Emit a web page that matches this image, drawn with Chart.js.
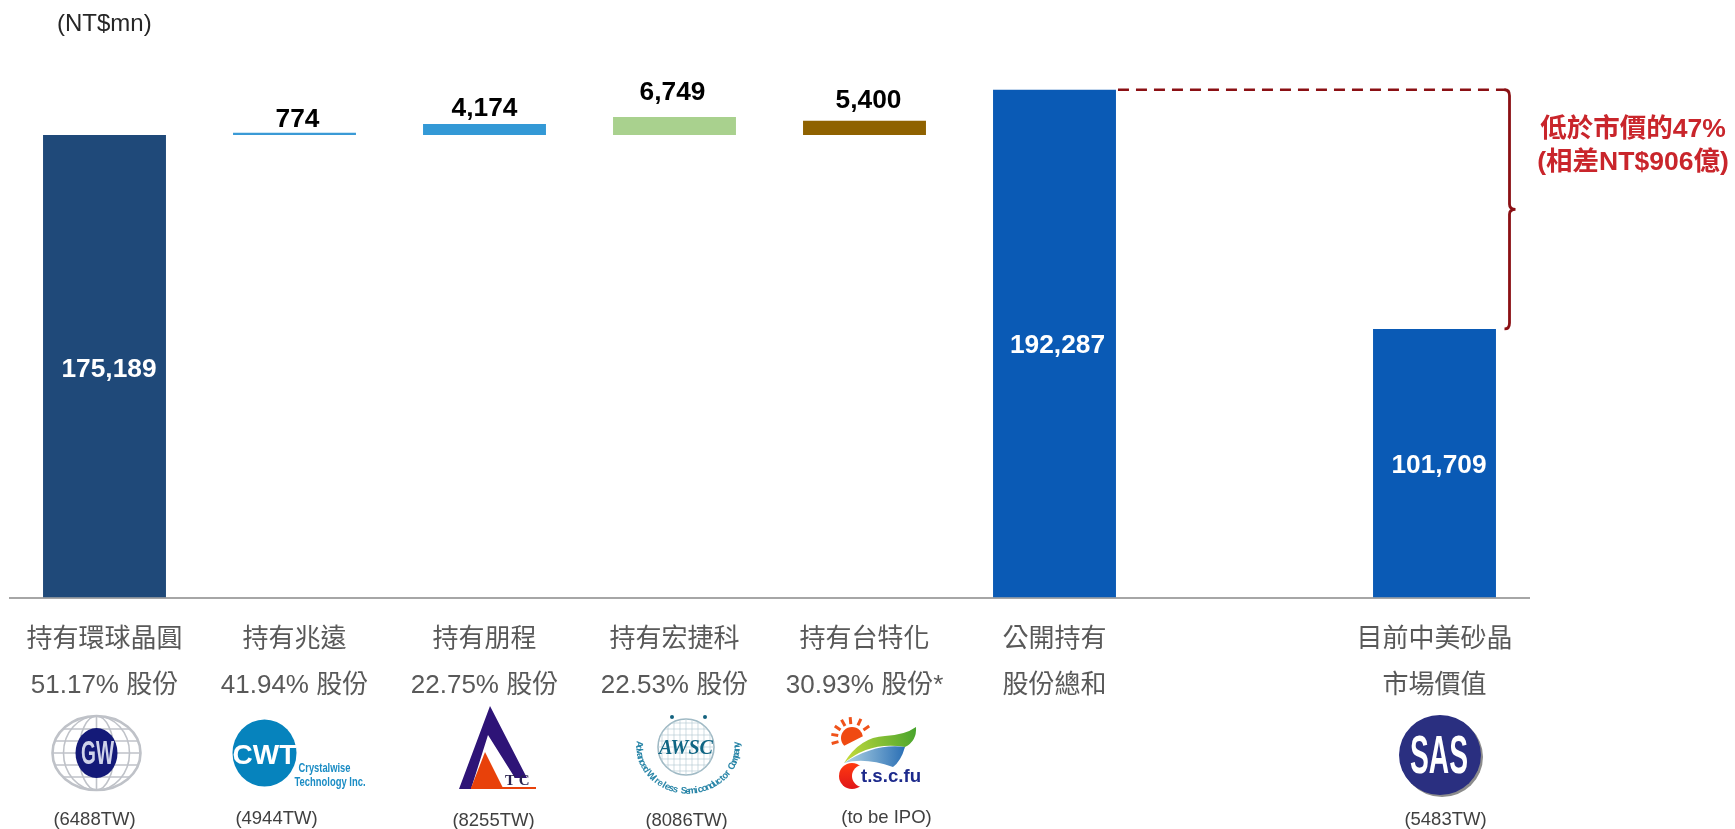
<!DOCTYPE html>
<html lang="zh-TW">
<head>
<meta charset="utf-8">
<title>中美矽晶持股價值</title>
<style>html,body{margin:0;padding:0;background:#fff}canvas{display:block}</style>
<script src="https://cdn.jsdelivr.net/npm/chart.js@4/dist/chart.umd.min.js"></script>
</head>
<body>
<canvas id="c" width="1735" height="829"></canvas>
<script>
const categories = [
  ["持有環球晶圓","51.17% 股份"],
  ["持有兆遠","41.94% 股份"],
  ["持有朋程","22.75% 股份"],
  ["持有宏捷科","22.53% 股份"],
  ["持有台特化","30.93% 股份*"],
  ["公開持有","股份總和"],
  "",
  ["目前中美砂晶","市場價值"]
];
const values    = [175189, 774, 4174, 6749, 5400, 192287, null, 101709];
const bases     = [0, 175189, 175189, 175189, 175189, 0, null, 0];
const valueText = ["175,189","774","4,174","6,749","5,400","192,287","","101,709"];
const barColors = ["#1f4979","#3a9ad6","#3399d6","#a9d18e","#8f6200","#0a5ab5","#0a5ab5","#0a5ab5"];
const codes     = ["(6488TW)","(4944TW)","(8255TW)","(8086TW)","(to be IPO)","","","(5483TW)"];
const unitLabel = "(NT$mn)";
const noteLines = ["低於市價的47%","(相差NT$906億)"];

const SANS = '"Liberation Sans","Noto Sans CJK TC",sans-serif';

function logoGW(ctx,x,y){
  ctx.save();
  ctx.strokeStyle="#bfc2c8";ctx.lineWidth=2.6;
  const rx=44,ry=37;
  ctx.beginPath();ctx.ellipse(x,y,rx,ry,0,0,Math.PI*2);ctx.stroke();
  ctx.lineWidth=1.6;
  [0.4,0.75].forEach(k=>{ctx.beginPath();ctx.ellipse(x,y,rx*k,ry,0,0,Math.PI*2);ctx.stroke();});
  [-24,-12,0,12,24].forEach(d=>{
    const w=rx*Math.sqrt(1-d*d/(ry*ry));
    ctx.beginPath();ctx.moveTo(x-w,y+d);ctx.lineTo(x+w,y+d);ctx.stroke();
  });
  ctx.beginPath();ctx.moveTo(x,y-ry);ctx.lineTo(x,y+ry);ctx.stroke();
  ctx.fillStyle="#141a78";
  ctx.beginPath();ctx.ellipse(x,y,21,25,0,0,Math.PI*2);ctx.fill();
  ctx.fillStyle="#cfd3ea";ctx.font='bold 33px "Liberation Sans",sans-serif';
  ctx.textAlign="center";ctx.textBaseline="middle";ctx.fillText("GW",x+1,y+2,33);
  ctx.restore();
}
function logoCWT(ctx,x,y){
  ctx.save();
  ctx.fillStyle="#0683bd";
  ctx.beginPath();ctx.ellipse(x,y,32,33.5,0,0,Math.PI*2);ctx.fill();
  ctx.fillStyle="#fff";
  ctx.font='bold 28px "Liberation Sans",sans-serif';
  ctx.textAlign="center";ctx.textBaseline="middle";
  ctx.fillText("CWT",x,y+3,65);
  ctx.fillStyle="#1a8cc4";ctx.font='bold 13.5px "Liberation Sans",sans-serif';
  ctx.textAlign="left";
  ctx.fillText("Crystalwise",x+34,y+15,52);
  ctx.fillText("Technology Inc.",x+30,y+29,71);
  ctx.restore();
}
function logoATC(ctx,x,y){
  ctx.save();
  ctx.fillStyle="#2e1477";
  ctx.beginPath();ctx.moveTo(x,y-42);ctx.lineTo(x+37,y+30);ctx.lineTo(x+25,y+30);
  ctx.lineTo(x-2,y-13);ctx.lineTo(x-19,y+41);ctx.lineTo(x-31,y+41);ctx.closePath();ctx.fill();
  ctx.fillStyle="#e8410a";
  ctx.beginPath();ctx.moveTo(x-5,y+4);ctx.lineTo(x+13,y+40);ctx.lineTo(x-19,y+40);ctx.closePath();ctx.fill();
  ctx.fillRect(x-19,y+39,65,2);
  ctx.fillStyle="#2a2350";ctx.font='bold 15px "Liberation Serif",serif';
  ctx.textAlign="left";ctx.textBaseline="middle";ctx.fillText("T C",x+15,y+33,30);
  ctx.restore();
}
function logoAWSC(ctx,x,y){
  ctx.save();
  const wx=x-2,cy=y-8;
  ctx.strokeStyle="#9fb9c4";ctx.lineWidth=1.6;
  ctx.beginPath();ctx.arc(wx,cy,28,0,Math.PI*2);ctx.stroke();
  ctx.lineWidth=0.7;ctx.strokeStyle="#b9cdd5";
  for(let d=-24;d<=24;d+=6){
    const w=Math.sqrt(28*28-d*d);
    ctx.beginPath();ctx.moveTo(wx-w,cy+d);ctx.lineTo(wx+w,cy+d);ctx.stroke();
    ctx.beginPath();ctx.moveTo(wx+d,cy-w);ctx.lineTo(wx+d,cy+w);ctx.stroke();
  }
  ctx.fillStyle="#14627f";
  [[-14,-31],[19,-31]].forEach(p=>{ctx.beginPath();ctx.arc(wx+p[0],cy+p[1]+1,2,0,Math.PI*2);ctx.fill();});
  ctx.font='italic bold 22px "Liberation Serif",serif';
  ctx.textAlign="center";ctx.textBaseline="middle";
  ctx.fillStyle="#0f6583";ctx.fillText("AWSC",wx,cy+1,54);
  const s="Advanced Wireless Semiconductor Company";
  ctx.font='bold 9.5px "Liberation Sans",sans-serif';
  ctx.fillStyle="#2a86a8";
  const start=Math.PI*1.02,end=-Math.PI*0.02;
  [...s].forEach((ch,i)=>{
    const a=start+(end-start)*i/(s.length-1);
    ctx.save();ctx.translate(x+49*Math.cos(a),y-8+44*Math.sin(a));
    ctx.rotate(a-Math.PI/2);ctx.fillText(ch,0,0);ctx.restore();
  });
  ctx.restore();
}
function logoTSC(ctx,x,y){
  ctx.save();
  const sx=x-23,sy=y-13;
  ctx.fillStyle="#f04a12";
  ctx.beginPath();ctx.arc(sx,sy,11,Math.PI*0.75,Math.PI*1.95);ctx.fill();
  ctx.strokeStyle="#f0521a";ctx.lineWidth=3;
  [165,190,215,240,265,295,325].forEach(d=>{
    const a=d*Math.PI/180;
    ctx.beginPath();ctx.moveTo(sx+14*Math.cos(a),sy+14*Math.sin(a));
    ctx.lineTo(sx+21*Math.cos(a),sy+21*Math.sin(a));ctx.stroke();
  });
  const g=ctx.createLinearGradient(x-30,y,x+40,y-20);
  g.addColorStop(0,"#c2d93a");g.addColorStop(1,"#4aa52e");
  ctx.fillStyle=g;
  ctx.beginPath();ctx.moveTo(x-31,y+12);
  ctx.quadraticCurveTo(x-15,y-14,x+10,y-15);
  ctx.quadraticCurveTo(x+30,y-16,x+41,y-24);
  ctx.quadraticCurveTo(x+42,y-10,x+30,y-4);
  ctx.quadraticCurveTo(x-5,y-10,x-31,y+12);ctx.fill();
  const b=ctx.createLinearGradient(x-25,y,x+30,y);
  b.addColorStop(0,"#a5cbe0");b.addColorStop(1,"#2a6fb5");
  ctx.fillStyle=b;
  ctx.beginPath();ctx.moveTo(x-31,y+12);
  ctx.quadraticCurveTo(x,y-8,x+30,y-4);
  ctx.quadraticCurveTo(x+26,y+10,x+18,y+16);
  ctx.quadraticCurveTo(x-10,y+6,x-31,y+12);ctx.fill();
  const r=ctx.createLinearGradient(x,y+12,x,y+38);
  r.addColorStop(0,"#ff3a10");r.addColorStop(1,"#e0161a");
  ctx.fillStyle=r;
  ctx.beginPath();ctx.arc(x-23,y+25,13,0,Math.PI*2);ctx.fill();
  ctx.fillStyle="#fff";
  ctx.beginPath();ctx.arc(x-12,y+25,11,0,Math.PI*2);ctx.fill();
  ctx.fillStyle="#1d2a8c";ctx.font='bold 19px "Liberation Sans",sans-serif';
  ctx.textAlign="left";ctx.textBaseline="middle";
  ctx.fillText("t.s.c.fu",x-14,y+26,60);
  ctx.restore();
}
function logoSAS(ctx,x,y){
  ctx.save();
  ctx.fillStyle="#8c8c8c";
  ctx.beginPath();ctx.ellipse(x+2,y+2,41,40,0,0,Math.PI*2);ctx.fill();
  ctx.fillStyle="#2a2f80";
  ctx.beginPath();ctx.ellipse(x,y,41,40,0,0,Math.PI*2);ctx.fill();
  ctx.fillStyle="#fff";ctx.font='bold 54px "Liberation Sans",sans-serif';
  ctx.textAlign="center";ctx.textBaseline="middle";
  ctx.fillText("SAS",x-1,y+3,58);
  ctx.restore();
}

const logoDraw = [
  {fn:logoGW,dx:-8,cy:753},
  {fn:logoCWT,dx:-30,cy:753},
  {fn:logoATC,dx:5.5,cy:748},
  {fn:logoAWSC,dx:13.5,cy:755},
  {fn:logoTSC,dx:10.5,cy:751},
  null,null,
  {fn:logoSAS,dx:5.5,cy:755}
];
const codeDx = [-10,-18,9,12,22,0,0,11];
const codeY  = [820,819,820.5,821,818,0,0,820];
const labelDx = [4.5,3,0,-2,4,3,0,4.5];
const labelDy = [4,0,0,0,0,2,0,3];
const topGap = [0,13,15.5,24,20,0,0,0];

const overlay = {
  id:"overlay",
  afterDatasetsDraw(chart){
    const ctx=chart.ctx, xS=chart.scales.x, yS=chart.scales.y;
    const meta=chart.getDatasetMeta(0);
    ctx.save();
    ctx.textAlign="center";ctx.textBaseline="middle";
    ctx.font='bold 26.3px "Liberation Sans",sans-serif';
    meta.data.forEach((el,i)=>{
      if(!valueText[i])return;
      const inside=bases[i]===0;
      ctx.fillStyle=inside?"#ffffff":"#000000";
      const y=inside?(yS.getPixelForValue(values[i])+yS.getPixelForValue(0))/2
                    :yS.getPixelForValue(bases[i]+values[i])-topGap[i];
      ctx.fillText(valueText[i],el.x+labelDx[i],y+labelDy[i]);
    });
    ctx.font='24px "Liberation Sans",sans-serif';ctx.fillStyle="#262626";
    ctx.textAlign="left";ctx.fillText(unitLabel,57,24);
    ctx.font='18.5px "Liberation Sans",sans-serif';ctx.fillStyle="#404040";ctx.textAlign="center";
    codes.forEach((t,i)=>{ if(t) ctx.fillText(t,xS.getPixelForTick(i)+codeDx[i],codeY[i]); });
    logoDraw.forEach((l,i)=>{ if(l) l.fn(ctx,xS.getPixelForTick(i)+l.dx,l.cy); });
    const totalY=yS.getPixelForValue(values[5]), mktY=yS.getPixelForValue(values[7]);
    const barRight=meta.data[5].x+meta.data[5].width/2;
    const bx=xS.getPixelForTick(7)+75;
    ctx.strokeStyle="#8b1014";ctx.lineWidth=2.4;
    ctx.setLineDash([11,7]);
    ctx.beginPath();ctx.moveTo(barRight+2,totalY);ctx.lineTo(bx-4,totalY);ctx.stroke();
    ctx.setLineDash([]);
    const mid=(totalY+mktY)/2;
    ctx.lineWidth=2.8;
    ctx.beginPath();
    ctx.moveTo(bx-5,totalY);
    ctx.quadraticCurveTo(bx,totalY,bx,totalY+6);
    ctx.lineTo(bx,mid-5);
    ctx.quadraticCurveTo(bx,mid,bx+6,mid);
    ctx.quadraticCurveTo(bx,mid,bx,mid+5);
    ctx.lineTo(bx,mktY-6);
    ctx.quadraticCurveTo(bx,mktY,bx-5,mktY);
    ctx.stroke();
    ctx.fillStyle="#c9252b";ctx.textAlign="center";
    ctx.font='bold 26.5px "Liberation Sans","Noto Sans CJK TC",sans-serif';
    ctx.fillText(noteLines[0],1633,130);
    ctx.fillText(noteLines[1],1633,163);
    ctx.restore();
  }
};

new Chart(document.getElementById("c"),{
  type:"bar",
  data:{
    labels:categories,
    datasets:[{
      data:values.map((v,i)=>v===null?null:[bases[i],bases[i]+v]),
      backgroundColor:barColors,
      borderWidth:0,
      barPercentage:0.647,
      categoryPercentage:1
    }]
  },
  options:{
    responsive:false,
    animation:false,
    events:[],
    layout:{padding:{left:9.5,right:205.5,top:43,bottom:0}},
    plugins:{legend:{display:false},tooltip:{enabled:false},title:{display:false}},
    scales:{
      x:{
        grid:{display:false,drawTicks:false},
        border:{display:true,color:"#a6a6a6",width:2},
        afterFit(axis){axis.height=231.5;},
        ticks:{
          autoSkip:false,maxRotation:0,minRotation:0,padding:19.5,
          color:"#595959",
          font:{family:SANS,size:26,lineHeight:1.77}
        }
      },
      y:{display:false,min:0,max:210000,grid:{display:false}}
    }
  },
  plugins:[overlay]
});
</script>
</body>
</html>
